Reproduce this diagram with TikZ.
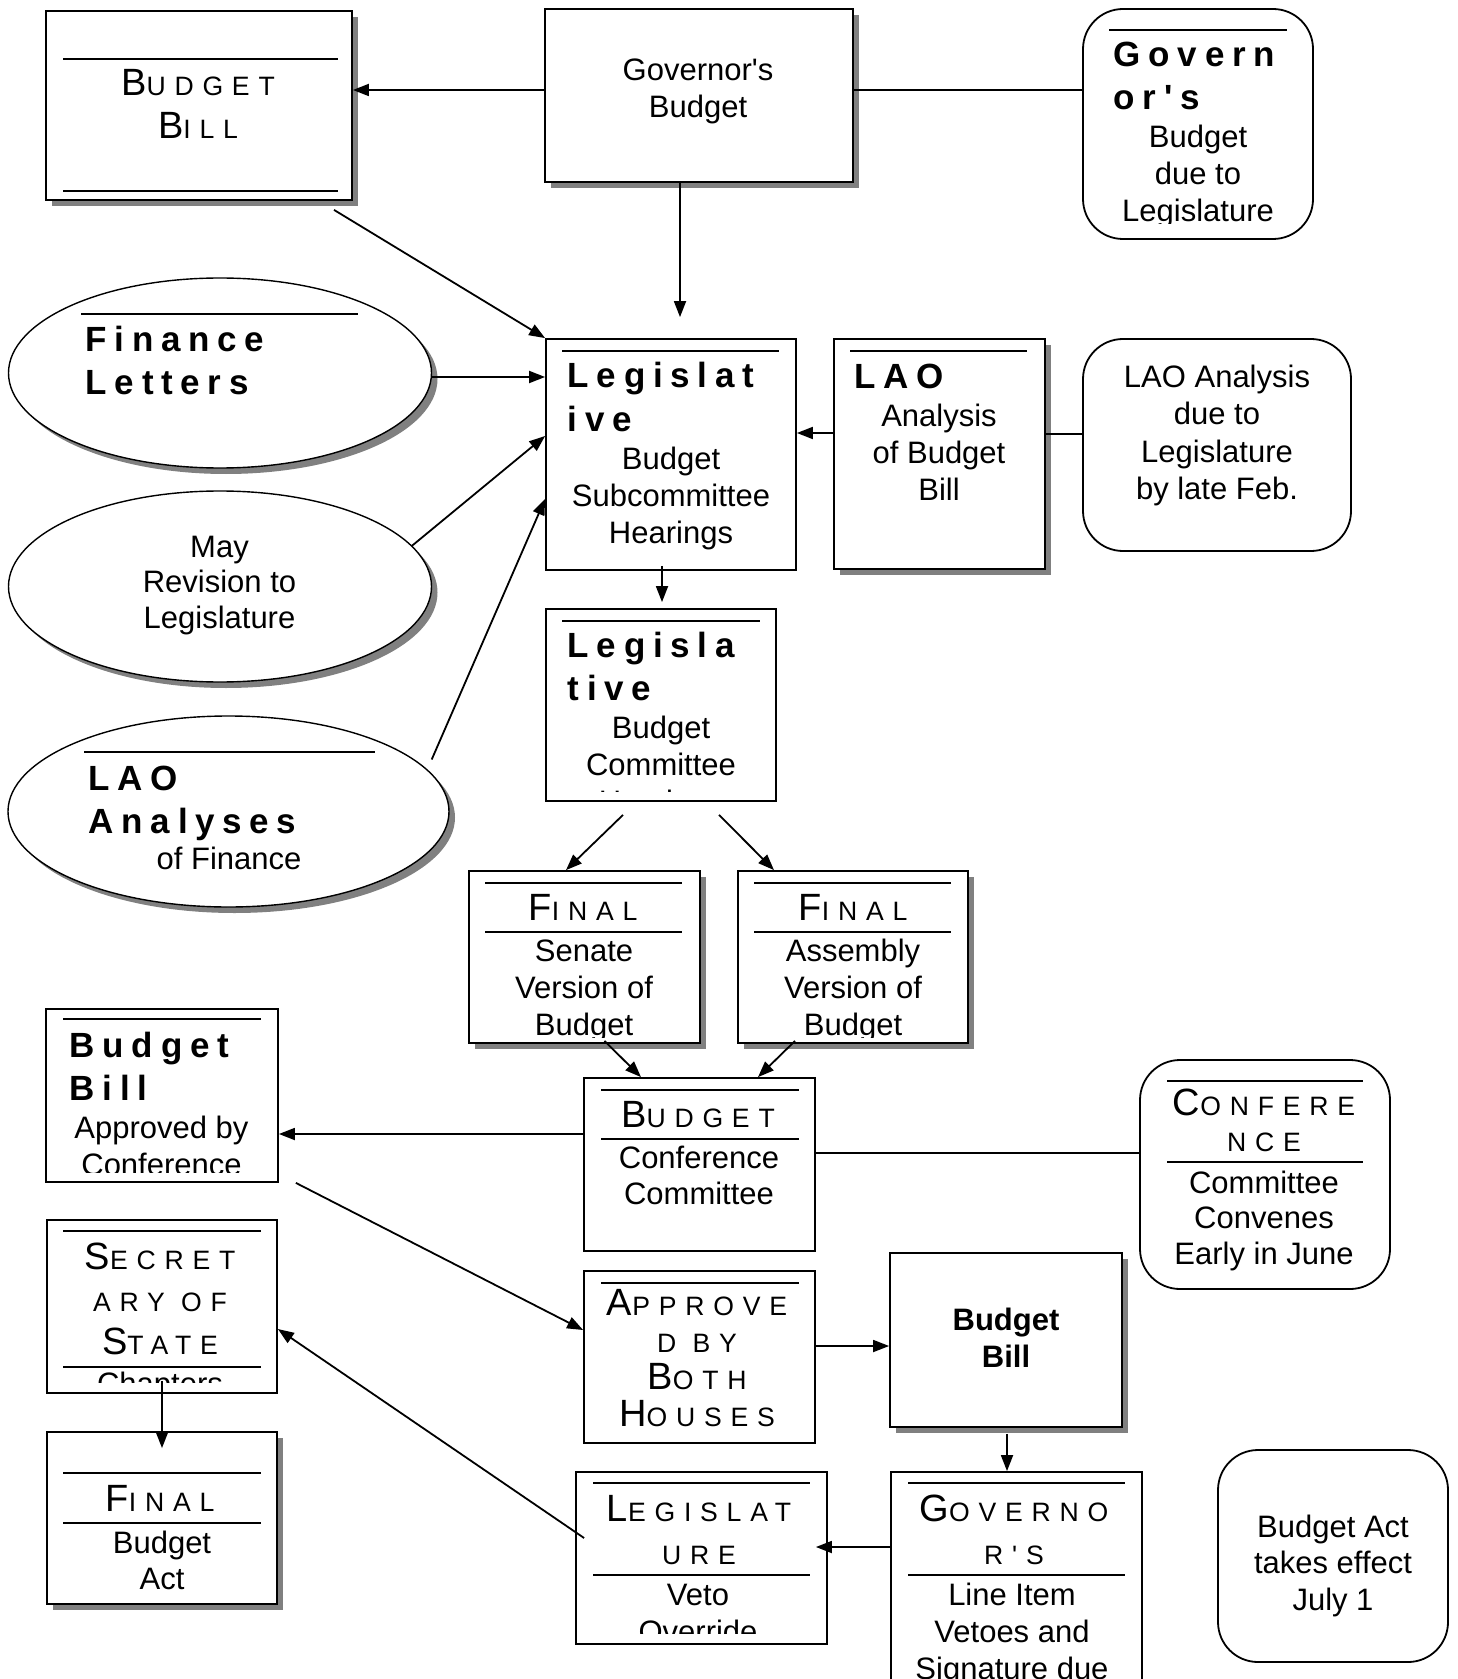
\documentclass[tikz,border=0pt]{standalone}
\usepackage{fontspec}
\usepackage{tikz}
\usetikzlibrary{arrows.meta,shapes.geometric,shadows,calc}
\newfontfamily\arialfont{Liberation Sans}
\newfontfamily\spacedfont[LetterSpace=22]{Liberation Sans}
\newfontfamily\capsfont[LetterSpace=33]{Liberation Sans}
\newcommand\firstcap[1]{{\fontsize{19}{19}\selectfont #1}}
\tikzset{
  box/.style={
    draw,
    fill=white,
    rectangle,
    inner sep=0pt
  },
  shaded box/.style={
    box,
    drop shadow={shadow xshift=3pt, shadow yshift=-3pt, opacity=1, fill=black!50}
  },
  round box/.style={
    box,
    rounded corners=20pt
  },
  oval/.style={
    draw,
    fill=white,
    ellipse,
    inner sep=0pt,
    line width=0.7pt,
    drop shadow={shadow xshift=3pt, shadow yshift=-3pt, opacity=1, fill=black!50}
  },
  body/.style={
    font=\arialfont\fontsize{15.5}{#1}\selectfont,
    align=center,
    anchor=base,
    inner sep=0pt
  },
  body/.default=18.5pt,
  bold body/.style={
    body,
    font=\arialfont\bfseries\fontsize{15.5}{18.5}\selectfont
  },
  head/.style={
    font=\spacedfont\bfseries\fontsize{17.5}{21.5}\selectfont,
    align=left,
    anchor=base west,
    inner sep=0pt
  },
  caps/.style={
    font=\capsfont\fontsize{13.3}{#1}\selectfont,
    align=center,
    anchor=base,
    inner sep=0pt
  },
  caps/.default=21.5pt
}

\begin{document}
\begin{tikzpicture}[x=0.5pt, y=-0.5pt, line width=0.9pt,
  >={Triangle[length=8pt,width=6pt]}]
 \useasboundingbox (0,0) rectangle (1457,1679);
 \clip (0,0) rectangle (1457,1679);

 % boxes and ovals
 \node[shaded box, minimum width=153pt, minimum height=94.5pt] (bbill) at (199,105.5) {};
 \node[shaded box, minimum width=154pt, minimum height=86.5pt] (govb) at (699,95.5) {};
 \node[round box, minimum width=115pt, minimum height=115pt] (govdue) at (1198,124) {};
 \node[oval, minimum width=211.5pt, minimum height=95pt] (finlet) at (220,373) {};
 \node[box, minimum width=125pt, minimum height=115.5pt] (legsub) at (671,454.5) {};
 \node[shaded box, minimum width=105.5pt, minimum height=115pt] (laobox) at (939.5,454) {};
 \node[round box, minimum width=134pt, minimum height=106pt] (laodue) at (1217,445) {};
 \node[oval, minimum width=211.5pt, minimum height=95.5pt] (mayrev) at (220,586.5) {};
 \node[oval, minimum width=220.5pt, minimum height=95.5pt] (laoana) at (228.5,811.5) {};
 \node[box, minimum width=115pt, minimum height=96pt] (legcom) at (661,705) {};
 \node[shaded box, minimum width=115.5pt, minimum height=86pt] (finsen) at (584.5,957) {};
 \node[shaded box, minimum width=115pt, minimum height=86pt] (finasm) at (853,957) {};
 \node[box, minimum width=115.5pt, minimum height=86.5pt] (bconf) at (699.5,1164.5) {};
 \node[round box, minimum width=125pt, minimum height=114.5pt] (confdue) at (1265,1174.5) {};
 \node[box, minimum width=116pt, minimum height=86.5pt] (bbapp) at (162,1095.5) {};
 \node[box, minimum width=115.5pt, minimum height=86pt] (appboth) at (699.5,1357) {};
 \node[shaded box, minimum width=116pt, minimum height=87pt] (bbill2) at (1006,1340) {};
 \node[box, minimum width=125.5pt, minimum height=124pt] (govli) at (1016.5,1596) {};
 \node[box, minimum width=125.5pt, minimum height=86pt] (legveto) at (701.5,1558) {};
 \node[box, minimum width=115pt, minimum height=86.5pt] (secstate) at (162,1306.5) {};
 \node[shaded box, minimum width=115pt, minimum height=86pt] (finact) at (162,1518) {};
 \node[round box, minimum width=115pt, minimum height=106pt] (actdue) at (1333,1556) {};

 % rules inside the boxes
 \draw
  (63,59) -- (338,59)  (63,191) -- (338,191)
  (1109,30) -- (1287,30)
  (81,314) -- (358,314)
  (562,351) -- (779,351)
  (850,351) -- (1027,351)
  (84,752) -- (375,752)
  (562,621) -- (760,621)
  (485,883) -- (682,883)  (485,932) -- (682,932)
  (754,883) -- (951,883)  (754,932) -- (951,932)
  (601,1090) -- (799,1090)  (601,1139) -- (799,1139)
  (1167,1081) -- (1363,1081)  (1167,1162) -- (1363,1162)
  (63,1019) -- (261,1019)
  (601,1283) -- (799,1283)
  (908,1483) -- (1125,1483)  (908,1575) -- (1125,1575)
  (593,1483) -- (810,1483)  (593,1575) -- (810,1575)
  (63,1231) -- (261,1231)  (63,1367) -- (261,1367)
  (63,1473) -- (261,1473)  (63,1523) -- (261,1523);

 % texts (placed at the baseline of their last line)
 \node[caps] (bbill-text) at (198,139) {\firstcap{B}UDGET\\\firstcap{B}ILL};
 \node[body] (govb-text) at (698,118) {Governor's\\Budget};
 \node[head] (govdue-head) at (1113,110) {Govern\\or's};
 \begin{scope}
  \clip (1083,9) rectangle (1313,224);
  \node[body] (govdue-text) at (1198,222) {Budget\\due to\\Legislature};
 \end{scope}
 \node[head] (finlet-head) at (85,395) {Finance\\Letters};
 \node[head] (legsub-head) at (567,431) {Legislat\\ive};
 \node[body] (legsub-text) at (671,543) {Budget\\Subcommittee\\Hearings};
 \node[head] (laobox-head) at (854,388.5) {LAO};
 \node[body] (laobox-text) at (939,501) {Analysis\\of Budget\\Bill};
 \node[body] (laodue-text) at (1217,499) {LAO Analysis\\due to\\Legislature\\by late Feb.};
 \node[body=17.75pt] (mayrev-text) at (219.5,628) {May\\Revision to\\Legislature};
 \node[head] (laoana-head) at (88,833) {LAO\\Analyses};
 \node[body] (laoana-text) at (229,869) {of Finance};
 \node[head] (legcom-head) at (567,700) {Legisla\\tive};
 \begin{scope}
  \clip (546,609) rectangle (776,791);
  \node[body] (legcom-text) at (661,812) {Budget\\Committee\\Hearings};
 \end{scope}
 \node[caps] (finsen-caps) at (583,920) {\firstcap{F}INAL};
 \node[caps] (finasm-caps) at (853,920) {\firstcap{F}INAL};
 \begin{scope}
  \clip (469,871) rectangle (968,1037);
  \node[body] (finsen-text) at (584,1035) {Senate\\Version of\\Budget};
  \node[body] (finasm-text) at (853,1035) {Assembly\\Version of\\Budget};
 \end{scope}
 \node[caps] (bconf-caps) at (698,1127) {\firstcap{B}UDGET};
 \node[body=18pt] (bconf-text) at (699,1204) {Conference\\Committee};
 \node[caps=18pt] (confdue-caps) at (1264,1151) {\firstcap{C}ONFERE\\NCE};
 \node[body=17.75pt] (confdue-text) at (1264,1264) {Committee\\Convenes\\Early in June};
 \node[head] (bbapp-head) at (69,1100) {Budget\\Bill};
 \begin{scope}
  \clip (46,1009) rectangle (278,1172);
  \node[body] (bbapp-text) at (161.5,1175.5) {Approved by\\Conference};
 \end{scope}
 \node[caps=18.5pt] (appboth-caps) at (697,1426) {\firstcap{A}PPROVE\\D BY\\\firstcap{B}OTH\\\firstcap{H}OUSES};
 \node[bold body] (bbill2-text) at (1006,1367) {Budget\\Bill};
 \node[caps] (govli-caps) at (1014,1564) {\firstcap{G}OVERNO\\R'S};
 \node[body] (govli-text) at (1012,1679) {Line Item\\Vetoes and\\Signature due};
 \node[caps] (legveto-caps) at (699,1564) {\firstcap{L}EGISLAT\\URE};
 \begin{scope}
  \clip (576,1472) rectangle (827,1633);
  \node[body] (legveto-text) at (698,1642) {Veto\\Override};
 \end{scope}
 \node[caps=21.25pt] (secstate-caps) at (160,1354) {\firstcap{S}ECRET\\ARY OF\\\firstcap{S}TATE};
 \begin{scope}
  \clip (47,1367) rectangle (277,1382);
  \node[body] (secstate-text) at (160,1394) {Chapters};
 \end{scope}
 \node[caps] (finact-caps) at (160,1511) {\firstcap{F}INAL};
 \node[body=18pt] (finact-text) at (162,1589) {Budget\\Act};
 \node[body=18.25pt] (actdue-text) at (1333,1610) {Budget Act\\takes effect\\July 1};

 % connectors
 \path[->]
  (govb.west |- 0,90) edge (bbill.east |- 0,90)
  (govb.east |- 0,90) edge[-] (govdue.west |- 0,90)
  (govb.south -| 680,0) edge ($(legsub.north -| 680,0)+(0,-21)$)
  ($(bbill.south)+(135,9)$) edge (legsub.north west)
  (finlet.east |- 0,377) edge (legsub.west |- 0,377)
  (mayrev.12) edge (legsub.west |- 0,436)
  ($(laoana.east)+(-18,-52)$) edge (legsub.west |- 0,499)
  (laobox.west |- 0,433) edge (legsub.east |- 0,433)
  (laobox.east |- 0,434) edge[-] (laodue.west |- 0,434)
  ($(legsub.south -| 662,0)+(0,-5)$) edge ($(legcom.north -| 662,0)+(0,-6)$)
  ($(legcom.south)+(-38,13)$) edge (finsen.north -| 566,0)
  ($(legcom.south)+(58,13)$) edge (finasm.north -| 774,0)
  ($(finsen.south)+(20,-3)$) edge (bconf.north -| 641,0)
  ($(finasm.south)+(-58,-3)$) edge (bconf.north -| 758,0)
  (bconf.west |- 0,1134) edge (bbapp.east |- 0,1134)
  (bconf.east |- 0,1153) edge[-] (confdue.west |- 0,1153)
  ($(bbapp.south east)+(17,0)$) edge (appboth.west |- 0,1330)
  (appboth.east |- 0,1346) edge (bbill2.west |- 0,1346)
  ($(bbill2.south)+(1,6)$) edge (govli.north -| 1007,0)
  (govli.west |- 0,1547) edge ($(legveto.east |- 0,1547)+(-12,0)$)
  ($(legveto.west |- 0,1538)+(9,0)$) edge (secstate.east |- 0,1329)
  ($(secstate.south -| 162,0)+(0,-13)$) edge ($(finact.north -| 162,0)+(0,17)$);
\end{tikzpicture}
\end{document}
